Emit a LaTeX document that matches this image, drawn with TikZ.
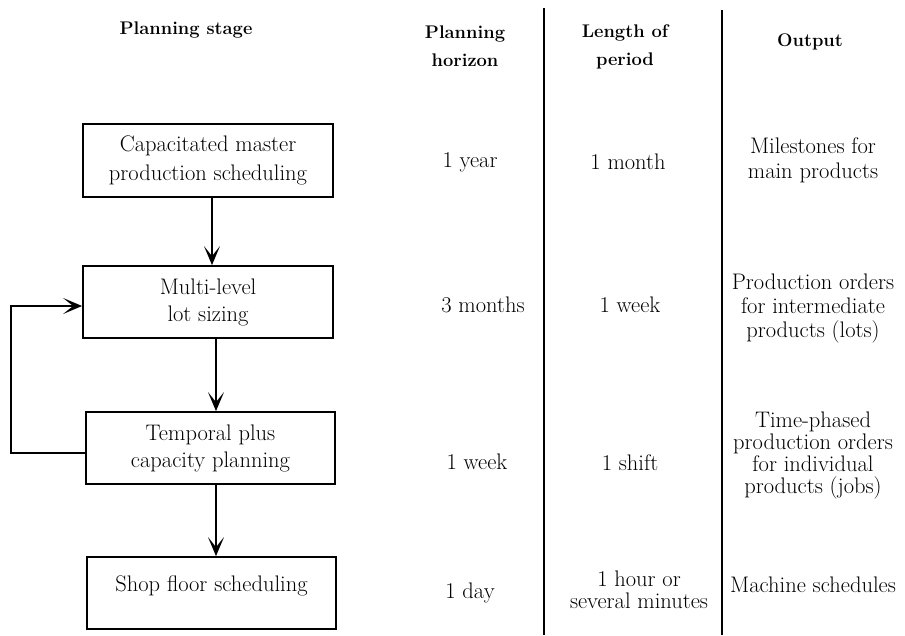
\documentclass[tikz,border=0pt]{standalone}
\usepackage{fontspec}
\usetikzlibrary{arrows.meta}
\begin{document}
\begin{tikzpicture}[x=1pt,y=-1pt,
  body/.style={font=\fontsize{22.5}{26}\selectfont, align=center, inner sep=0pt},
  hdr/.style={font=\fontsize{18.3}{28}\selectfont\bfseries, align=center, inner sep=0pt},
  box/.style={draw, line width=1.8pt, minimum width=250pt, minimum height=72pt, inner sep=0pt,
              font=\fontsize{22.5}{27}\selectfont, align=center},
  arr/.style={line width=1.8pt, -{Stealth[length=19pt,width=16pt,inset=10pt]}},
  sep/.style={line width=1.8pt}]
\useasboundingbox (0,0) rectangle (905,635);
% headers
\node[hdr] (h1) at (186,30) {Planning stage};
\node[hdr] (h2) at (465,46) {Planning\\horizon};
\node[hdr] (h3) at (625,47) {Length of\\period};
\node[hdr] (h4) at (810,42) {Output};
% separators
\coordinate (s1t) at (544,8);
\coordinate (s1b) at (544,635);
\coordinate (s2t) at (722,10);
\coordinate (s2b) at (722,635);
\draw[sep] (s1t) -- (s1b);
\draw[sep] (s2t) -- (s2b);
% boxes
\node[box, minimum height=73pt, font=\fontsize{22.5}{29}\selectfont] (b1) at (208,160.5) {Capacitated master\\production scheduling};
\node[box] (b2) at (208,302) {Multi-level\\lot sizing};
\node[box, minimum width=249pt] (b3) at (210.5,448) {Temporal plus\\capacity planning};
\node[box, minimum width=249pt, text depth=18pt] (b4) at (211.5,593) {Shop floor scheduling};
% arrows
\draw[arr] ([xshift=4pt]b1.south) -- ([xshift=4pt]b2.north);
\draw[arr] ([xshift=8pt]b2.south) -- ([xshift=5.5pt]b3.north);
\draw[arr] ([xshift=5.5pt]b3.south) -- ([xshift=4.5pt]b4.north);
\draw[arr] ([yshift=-5pt]b3.west) -- ++(-74,0) |- ([yshift=-4pt]b2.west);
% row 1
\node[body] (r1a) at (470,162) {1 year};
\node[body] (r1b) at (628,162) {1 month};
\node[body, font=\fontsize{22.5}{25}\selectfont] (r1c) at (813,160) {Milestones for\\main products};
% row 2
\node[body] (r2a) at (483,305) {3 months};
\node[body] (r2b) at (630,305) {1 week};
\node[body, font=\fontsize{22.5}{24}\selectfont] (r2c) at (813,308) {Production orders\\for intermediate\\products (lots)};
% row 3
\node[body] (r3a) at (477,462) {1 week};
\node[body] (r3b) at (630,463) {1 shift};
\node[body, font=\fontsize{22.5}{22}\selectfont] (r3c) at (813,455) {Time-phased\\production orders\\for individual\\products (jobs)};
% row 4
\node[body] (r4a) at (470,593) {1 day};
\node[body, font=\fontsize{22.5}{22}\selectfont] (r4b) at (639,590) {1 hour or\\several minutes};
\node[body] (r4c) at (813,585) {Machine schedules};
\end{tikzpicture}
\end{document}
